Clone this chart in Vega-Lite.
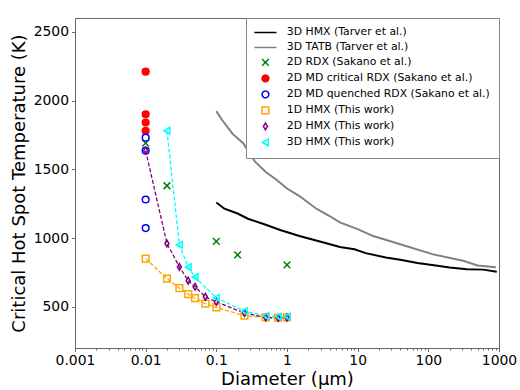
{
  "$schema": "https://vega.github.io/schema/vega-lite/v6.json",
  "width": 424,
  "height": 330,
  "autosize": {"type": "none"},
  "padding": {"left": 75, "top": 18, "right": 21, "bottom": 42},
  "background": "white",
  "config": {
    "font": "DejaVu Sans",
    "view": {"stroke": "#666", "strokeWidth": 1},
    "axis": {
      "labelFont": "DejaVu Sans", "titleFont": "DejaVu Sans",
      "labelFontSize": 13.9, "titleFontSize": 18, "titleFontWeight": "normal",
      "labelColor": "#000", "titleColor": "#000", "tickColor": "#444", "domainColor": "#666",
      "grid": false, "tickSize": 3.5, "tickWidth": 0.8
    },
    "legend": {
      "orient": "top-right", "offset": 0, "padding": 9,
      "strokeColor": "#888", "fillColor": "white",
      "labelFont": "DejaVu Sans", "labelFontSize": 10.85, "labelColor": "#000", "labelLimit": 400,
      "symbolStrokeWidth": 1.5, "symbolSize": 45, "rowPadding": 3,
      "labelOffset": 16, "symbolOffset": 5
    }
  },
  "datasets": {
    "tarver": [
      {"series": "3D HMX (Tarver et al.)", "d": 0.1, "T": 1258},
      {"series": "3D HMX (Tarver et al.)", "d": 0.13, "T": 1213},
      {"series": "3D HMX (Tarver et al.)", "d": 0.2, "T": 1178},
      {"series": "3D HMX (Tarver et al.)", "d": 0.28, "T": 1140},
      {"series": "3D HMX (Tarver et al.)", "d": 0.5, "T": 1096},
      {"series": "3D HMX (Tarver et al.)", "d": 0.8, "T": 1058},
      {"series": "3D HMX (Tarver et al.)", "d": 1.5, "T": 1014},
      {"series": "3D HMX (Tarver et al.)", "d": 3.6, "T": 962},
      {"series": "3D HMX (Tarver et al.)", "d": 5.6, "T": 935},
      {"series": "3D HMX (Tarver et al.)", "d": 9, "T": 918},
      {"series": "3D HMX (Tarver et al.)", "d": 13, "T": 890},
      {"series": "3D HMX (Tarver et al.)", "d": 25, "T": 858},
      {"series": "3D HMX (Tarver et al.)", "d": 40, "T": 842},
      {"series": "3D HMX (Tarver et al.)", "d": 70, "T": 818},
      {"series": "3D HMX (Tarver et al.)", "d": 120, "T": 802},
      {"series": "3D HMX (Tarver et al.)", "d": 200, "T": 785},
      {"series": "3D HMX (Tarver et al.)", "d": 350, "T": 773},
      {"series": "3D HMX (Tarver et al.)", "d": 600, "T": 770},
      {"series": "3D HMX (Tarver et al.)", "d": 930, "T": 755},
      {"series": "3D TATB (Tarver et al.)", "d": 0.1, "T": 1923},
      {"series": "3D TATB (Tarver et al.)", "d": 0.12, "T": 1860},
      {"series": "3D TATB (Tarver et al.)", "d": 0.17, "T": 1757},
      {"series": "3D TATB (Tarver et al.)", "d": 0.24, "T": 1690},
      {"series": "3D TATB (Tarver et al.)", "d": 0.35, "T": 1557},
      {"series": "3D TATB (Tarver et al.)", "d": 0.5, "T": 1480},
      {"series": "3D TATB (Tarver et al.)", "d": 0.71, "T": 1424},
      {"series": "3D TATB (Tarver et al.)", "d": 1, "T": 1360},
      {"series": "3D TATB (Tarver et al.)", "d": 1.5, "T": 1305},
      {"series": "3D TATB (Tarver et al.)", "d": 2.6, "T": 1213},
      {"series": "3D TATB (Tarver et al.)", "d": 4, "T": 1160},
      {"series": "3D TATB (Tarver et al.)", "d": 5.6, "T": 1114},
      {"series": "3D TATB (Tarver et al.)", "d": 10, "T": 1065},
      {"series": "3D TATB (Tarver et al.)", "d": 16.6, "T": 1014},
      {"series": "3D TATB (Tarver et al.)", "d": 40, "T": 955},
      {"series": "3D TATB (Tarver et al.)", "d": 117, "T": 881},
      {"series": "3D TATB (Tarver et al.)", "d": 310, "T": 834},
      {"series": "3D TATB (Tarver et al.)", "d": 500, "T": 800},
      {"series": "3D TATB (Tarver et al.)", "d": 900, "T": 788}
    ],
    "work": [
      {"series": "1D HMX (This work)", "d": 0.01, "T": 850},
      {"series": "1D HMX (This work)", "d": 0.02, "T": 705},
      {"series": "1D HMX (This work)", "d": 0.03, "T": 635},
      {"series": "1D HMX (This work)", "d": 0.04, "T": 592},
      {"series": "1D HMX (This work)", "d": 0.05, "T": 562},
      {"series": "1D HMX (This work)", "d": 0.07, "T": 522},
      {"series": "1D HMX (This work)", "d": 0.1, "T": 495},
      {"series": "1D HMX (This work)", "d": 0.25, "T": 435},
      {"series": "1D HMX (This work)", "d": 0.5, "T": 422},
      {"series": "1D HMX (This work)", "d": 0.75, "T": 420},
      {"series": "1D HMX (This work)", "d": 1, "T": 422},
      {"series": "2D HMX (This work)", "d": 0.01, "T": 1635},
      {"series": "2D HMX (This work)", "d": 0.02, "T": 960},
      {"series": "2D HMX (This work)", "d": 0.03, "T": 790},
      {"series": "2D HMX (This work)", "d": 0.04, "T": 690},
      {"series": "2D HMX (This work)", "d": 0.05, "T": 645},
      {"series": "2D HMX (This work)", "d": 0.07, "T": 572},
      {"series": "2D HMX (This work)", "d": 0.1, "T": 535},
      {"series": "2D HMX (This work)", "d": 0.25, "T": 455},
      {"series": "2D HMX (This work)", "d": 0.5, "T": 422},
      {"series": "2D HMX (This work)", "d": 0.75, "T": 418},
      {"series": "2D HMX (This work)", "d": 1, "T": 420},
      {"series": "3D HMX (This work)", "d": 0.02, "T": 1780},
      {"series": "3D HMX (This work)", "d": 0.03, "T": 950},
      {"series": "3D HMX (This work)", "d": 0.04, "T": 788},
      {"series": "3D HMX (This work)", "d": 0.05, "T": 715},
      {"series": "3D HMX (This work)", "d": 0.1, "T": 565},
      {"series": "3D HMX (This work)", "d": 0.25, "T": 468},
      {"series": "3D HMX (This work)", "d": 0.5, "T": 434},
      {"series": "3D HMX (This work)", "d": 0.75, "T": 428},
      {"series": "3D HMX (This work)", "d": 1, "T": 428}
    ],
    "sakano": [
      {"series": "2D RDX (Sakano et al.)", "d": 0.01, "T": 1690},
      {"series": "2D RDX (Sakano et al.)", "d": 0.02, "T": 1380},
      {"series": "2D RDX (Sakano et al.)", "d": 0.1, "T": 975},
      {"series": "2D RDX (Sakano et al.)", "d": 0.2, "T": 877},
      {"series": "2D RDX (Sakano et al.)", "d": 1, "T": 805},
      {"series": "2D MD critical RDX (Sakano et al.)", "d": 0.01, "T": 2210},
      {"series": "2D MD critical RDX (Sakano et al.)", "d": 0.01, "T": 1900},
      {"series": "2D MD critical RDX (Sakano et al.)", "d": 0.01, "T": 1840},
      {"series": "2D MD critical RDX (Sakano et al.)", "d": 0.01, "T": 1780},
      {"series": "2D MD quenched RDX (Sakano et al.)", "d": 0.01, "T": 1730},
      {"series": "2D MD quenched RDX (Sakano et al.)", "d": 0.01, "T": 1635},
      {"series": "2D MD quenched RDX (Sakano et al.)", "d": 0.01, "T": 1280},
      {"series": "2D MD quenched RDX (Sakano et al.)", "d": 0.01, "T": 1072}
    ]
  },
  "layer": [
    {
      "data": {"name": "tarver"},
      "mark": {"type": "line", "strokeWidth": 2},
      "encoding": {
        "x": {
          "field": "d", "type": "quantitative",
          "scale": {"type": "log", "domain": [0.001, 1000]},
          "axis": {
            "title": "Diameter (μm)",
            "values": [0.001,0.002,0.003,0.004,0.005,0.006,0.007,0.008,0.009,0.01,0.02,0.03,0.04,0.05,0.06,0.07,0.08,0.09,0.1,0.2,0.3,0.4,0.5,0.6,0.7,0.8,0.9,1,2,3,4,5,6,7,8,9,10,20,30,40,50,60,70,80,90,100,200,300,400,500,600,700,800,900,1000],
            "format": "~g",
            "labelExpr": "abs(log(datum.value)/LN10 - round(log(datum.value)/LN10)) < 0.001 ? datum.label : ''",
            "tickSize": {"condition": {"test": "abs(log(datum.value)/LN10 - round(log(datum.value)/LN10)) < 0.001", "value": 3.5}, "value": 2},
            "labelOverlap": false, "labelFlush": false, "labelPadding": 2, "titlePadding": 3
          }
        },
        "y": {
          "field": "T", "type": "quantitative",
          "scale": {"domain": [300, 2500]},
          "axis": {
            "title": "Critical Hot Spot Temperature (K)",
            "values": [500, 1000, 1500, 2000, 2500],
            "format": "d",
            "labelPadding": 3, "titlePadding": 5
          }
        },
        "stroke": {
          "field": "series", "type": "nominal",
          "scale": {
            "domain": ["3D HMX (Tarver et al.)", "3D TATB (Tarver et al.)", "2D RDX (Sakano et al.)", "2D MD critical RDX (Sakano et al.)", "2D MD quenched RDX (Sakano et al.)", "1D HMX (This work)", "2D HMX (This work)", "3D HMX (This work)"],
            "range": ["black", "gray", "green", "red", "blue", "orange", "purple", "cyan"]
          },
          "legend": {"title": null}
        }
      }
    },
    {
      "data": {"name": "work"},
      "mark": {"type": "line", "strokeWidth": 1.3, "strokeDash": [4, 2]},
      "encoding": {
        "x": {"field": "d", "type": "quantitative"},
        "y": {"field": "T", "type": "quantitative"},
        "stroke": {"field": "series", "type": "nominal", "legend": {"title": null}}
      }
    },
    {
      "data": {"name": "sakano"},
      "mark": {"type": "point", "size": 45, "strokeWidth": 1.5, "opacity": 1},
      "encoding": {
        "x": {"field": "d", "type": "quantitative"},
        "y": {"field": "T", "type": "quantitative"},
        "stroke": {"field": "series", "type": "nominal", "legend": {"title": null}},
        "fill": {
          "field": "series", "type": "nominal",
          "scale": {
            "domain": ["3D HMX (Tarver et al.)", "3D TATB (Tarver et al.)", "2D RDX (Sakano et al.)", "2D MD critical RDX (Sakano et al.)", "2D MD quenched RDX (Sakano et al.)", "1D HMX (This work)", "2D HMX (This work)", "3D HMX (This work)"],
            "range": ["transparent", "transparent", "transparent", "red", "transparent", "transparent", "transparent", "transparent"]
          },
          "legend": {"title": null}
        },
        "shape": {
          "field": "series", "type": "nominal",
          "scale": {
            "domain": ["3D HMX (Tarver et al.)", "3D TATB (Tarver et al.)", "2D RDX (Sakano et al.)", "2D MD critical RDX (Sakano et al.)", "2D MD quenched RDX (Sakano et al.)", "1D HMX (This work)", "2D HMX (This work)", "3D HMX (This work)"],
            "range": ["M-3.3,0L3.3,0", "M-3.3,0L3.3,0", "M-1,-1L1,1M1,-1L-1,1", "circle", "circle", "square", "M0,-1L0.6,0L0,1L-0.6,0Z", "triangle-left"]
          },
          "legend": {
            "title": null,
            "symbolDash": [1, 0],
            "encode": {"symbols": {"update": {"strokeWidth": {"signal": "indexof(datum.value, 'Tarver') >= 0 ? 2 : 1.5"}}}}
          }
        }
      }
    },
    {
      "data": {"name": "work"},
      "mark": {"type": "point", "size": 45, "strokeWidth": 1.5, "opacity": 1},
      "encoding": {
        "x": {"field": "d", "type": "quantitative"},
        "y": {"field": "T", "type": "quantitative"},
        "stroke": {"field": "series", "type": "nominal", "legend": {"title": null}},
        "fill": {"field": "series", "type": "nominal", "legend": {"title": null}},
        "shape": {"field": "series", "type": "nominal", "legend": {"title": null}}
      }
    }
  ]
}
